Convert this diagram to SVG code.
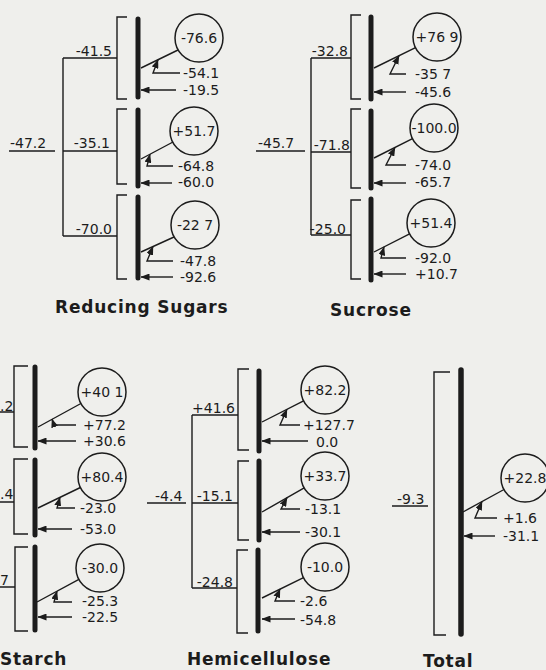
<svg xmlns="http://www.w3.org/2000/svg" width="546" height="670" viewBox="0 0 546 670">
<defs>
<marker id="ah" markerWidth="9" markerHeight="7" refX="8.5" refY="3.5" orient="auto" markerUnits="userSpaceOnUse"><path d="M0,0 L9,3.5 L0,7 z" fill="#1c1c1c"/></marker>
<style>
.t{font-family:"DejaVu Sans",sans-serif;font-size:14px;fill:#1c1c1c}
.m{text-anchor:middle}
.e{text-anchor:end}
.title{font-family:"DejaVu Sans",sans-serif;font-weight:bold;font-size:17px;letter-spacing:0.8px;fill:#1c1c1c}
.ln{fill:none;stroke:#1c1c1c;stroke-width:1.4}
.ar{fill:none;stroke:#1c1c1c;stroke-width:1.4;marker-end:url(#ah)}
.bar{stroke:#1c1c1c;stroke-width:5;stroke-linecap:round}
.circ{fill:none;stroke:#1c1c1c;stroke-width:1.5}
</style>
</defs>
<rect width="546" height="670" fill="#efefec"/>

<g id="connectors">
  <!-- Reducing sugars -->
  <path class="ln" d="M63,58 V236 M63,58 H117 M63,151 H117 M63,236 H117 M9,151 H55"/>
  <path class="ln" d="M127,17 H117 V99 H127 M127,109 H117 V184 H127 M127,195 H117 V279 H127"/>
  <path class="ln" d="M141,68 L178,50 M141,159 L173,142 M141,252 L174,237"/>
  <path class="ar" d="M180,73 H153 L158,59.7"/>
  <path class="ar" d="M173,166 H147 L150,154.2"/>
  <path class="ar" d="M173,261 H147 L153,246.5"/>
  <path class="ar" d="M176,90 H141"/>
  <path class="ar" d="M172,183 H141"/>
  <path class="ar" d="M173,277 H141"/>
  <!-- Sucrose -->
  <path class="ln" d="M311,58 V235 M311,58 H351 M311,152 H351 M311,235 H351 M256,151 H305"/>
  <path class="ln" d="M361,15 H351 V99 H361 M361,109 H351 V188 H361 M361,200 H351 V279 H361"/>
  <path class="ln" d="M374,68 L415.5,47.6 M374,158 L412.5,138.7 M374,252 L409.6,233.9"/>
  <path class="ar" d="M406,74 H390 L399,55.7"/>
  <path class="ar" d="M406,165 H386 L395,147.5"/>
  <path class="ar" d="M406,258 H381 L384,246.9"/>
  <path class="ar" d="M406,92 H374"/>
  <path class="ar" d="M406,183 H374"/>
  <path class="ar" d="M406,274 H374"/>
  <!-- Starch -->
  <path class="ln" d="M0,412 H14 M0,502 H14 M0,587 H15"/>
  <path class="ln" d="M28,366 H14 V447 H28 M28,459 H14 V534 H28 M28,547 H15 V631 H28"/>
  <path class="ln" d="M38,427 L80.9,403.5 M38,508 L80.4,487.5 M37,602 L78.9,579.4"/>
  <path class="ar" d="M76,425 H54 L52,419"/>
  <path class="ar" d="M75,508 H57 L60,497.4"/>
  <path class="ar" d="M72,602 H54 L57,591.2"/>
  <path class="ar" d="M76,441 H38"/>
  <path class="ar" d="M72,529 H38"/>
  <path class="ar" d="M72,617 H38"/>
  <!-- Hemicellulose -->
  <path class="ln" d="M192,415 V588 M192,415 H238 M192,503 H238 M192,588 H237 M147,503 H186"/>
  <path class="ln" d="M249,369 H238 V450 H249 M249,461 H238 V540 H249 M248,550 H237 V633 H248"/>
  <path class="ln" d="M262,422 L303.6,400.9 M262,512 L304.2,487.9 M262,598 L303.5,577.6"/>
  <path class="ar" d="M300,425 H280 L287,409.3"/>
  <path class="ar" d="M300,509 H281 L287,497.8"/>
  <path class="ar" d="M295,601 H275 L280,589.1"/>
  <path class="ar" d="M308,441 H262"/>
  <path class="ar" d="M300,532 H262"/>
  <path class="ar" d="M295,619 H262"/>
  <!-- Total -->
  <path class="ln" d="M450,372 H434 V635 H446 M392,506 H428"/>
  <path class="ln" d="M463,512 L504,489.5"/>
  <path class="ar" d="M497,518 H475 L482,501.6"/>
  <path class="ar" d="M495,536 H464"/>
</g>

<g id="reducing-sugars">
  <g id="rs-bars"><path class="bar" d="M138,19 V97 M138,110 V186 M138,197 V278"/></g>
  <g id="rs-c1"><circle class="circ" cx="199" cy="38" r="24"/><text class="t m" x="199" y="43">-76.6</text></g>
  <g id="rs-c2"><circle class="circ" cx="194" cy="131" r="24"/><text class="t m" x="194" y="136">+51.7</text></g>
  <g id="rs-c3"><circle class="circ" cx="195" cy="225" r="24"/><text class="t m" x="195" y="230">-22 7</text></g>
  <g id="rs-labels">
    <text class="t" x="10" y="148">-47.2</text>
    <text class="t e" x="112" y="56">-41.5</text>
    <text class="t e" x="110" y="148">-35.1</text>
    <text class="t e" x="112" y="234">-70.0</text>
    <text class="t" x="183" y="78">-54.1</text>
    <text class="t" x="183" y="95">-19.5</text>
    <text class="t" x="178" y="171">-64.8</text>
    <text class="t" x="178" y="187">-60.0</text>
    <text class="t" x="180" y="266">-47.8</text>
    <text class="t" x="180" y="282">-92.6</text>
    <text class="title" x="55" y="313">Reducing Sugars</text>
  </g>
</g>

<g id="sucrose">
  <g id="su-bars"><path class="bar" d="M371,17 V99 M371,111 V188 M371,199 V280"/></g>
  <g id="su-c1"><circle class="circ" cx="437" cy="37" r="24"/><text class="t m" x="437" y="42">+76 9</text></g>
  <g id="su-c2"><circle class="circ" cx="434" cy="128" r="24"/><text class="t m" x="434" y="133">-100.0</text></g>
  <g id="su-c3"><circle class="circ" cx="431" cy="223" r="24"/><text class="t m" x="431" y="228">+51.4</text></g>
  <g id="su-labels">
    <text class="t" x="258" y="148">-45.7</text>
    <text class="t e" x="348" y="56">-32.8</text>
    <text class="t e" x="350" y="150">-71.8</text>
    <text class="t e" x="346" y="234">-25.0</text>
    <text class="t" x="415" y="79">-35 7</text>
    <text class="t" x="415" y="97">-45.6</text>
    <text class="t" x="415" y="170">-74.0</text>
    <text class="t" x="415" y="187">-65.7</text>
    <text class="t" x="415" y="263">-92.0</text>
    <text class="t" x="415" y="279">+10.7</text>
    <text class="title" x="330" y="316">Sucrose</text>
  </g>
</g>

<g id="starch">
  <g id="st-bars"><path class="bar" d="M35,367 V448 M35,460 V535 M35,547 V630"/></g>
  <g id="st-c1"><circle class="circ" cx="102" cy="392" r="24"/><text class="t m" x="102" y="397">+40 1</text></g>
  <g id="st-c2"><circle class="circ" cx="102" cy="477" r="24"/><text class="t m" x="102" y="482">+80.4</text></g>
  <g id="st-c3"><circle class="circ" cx="100" cy="568" r="24"/><text class="t m" x="100" y="573">-30.0</text></g>
  <g id="st-labels">
    <text class="t" x="0" y="411">.2</text>
    <text class="t" x="0" y="499">.4</text>
    <text class="t" x="0" y="585">7</text>
    <text class="t" x="83" y="430">+77.2</text>
    <text class="t" x="83" y="446">+30.6</text>
    <text class="t" x="80" y="513">-23.0</text>
    <text class="t" x="80" y="534">-53.0</text>
    <text class="t" x="82" y="606">-25.3</text>
    <text class="t" x="82" y="622">-22.5</text>
    <text class="title" x="0" y="665">Starch</text>
  </g>
</g>

<g id="hemicellulose">
  <g id="he-bars"><path class="bar" d="M259,371 V451 M259,461 V540 M258,550 V631"/></g>
  <g id="he-c1"><circle class="circ" cx="325" cy="390" r="24"/><text class="t m" x="325" y="395">+82.2</text></g>
  <g id="he-c2"><circle class="circ" cx="325" cy="476" r="24"/><text class="t m" x="325" y="481">+33.7</text></g>
  <g id="he-c3"><circle class="circ" cx="325" cy="567" r="24"/><text class="t m" x="325" y="572">-10.0</text></g>
  <g id="he-labels">
    <text class="t" x="155" y="501">-4.4</text>
    <text class="t e" x="235" y="413">+41.6</text>
    <text class="t e" x="233" y="501">-15.1</text>
    <text class="t e" x="233" y="587">-24.8</text>
    <text class="t" x="303" y="430">+127.7</text>
    <text class="t" x="316" y="447">0.0</text>
    <text class="t" x="305" y="514">-13.1</text>
    <text class="t" x="305" y="537">-30.1</text>
    <text class="t" x="300" y="606">-2.6</text>
    <text class="t" x="300" y="625">-54.8</text>
    <text class="title" x="187" y="665">Hemicellulose</text>
  </g>
</g>

<g id="total">
  <g id="to-bar"><path class="bar" style="stroke-width:5.5" d="M461,370 V634"/></g>
  <g id="to-c1"><circle class="circ" cx="525" cy="478" r="24"/><text class="t m" x="525" y="483">+22.8</text></g>
  <g id="to-labels">
    <text class="t" x="397" y="504">-9.3</text>
    <text class="t" x="503" y="523">+1.6</text>
    <text class="t" x="503" y="541">-31.1</text>
    <text class="title" x="423" y="667">Total</text>
  </g>
</g>
</svg>
